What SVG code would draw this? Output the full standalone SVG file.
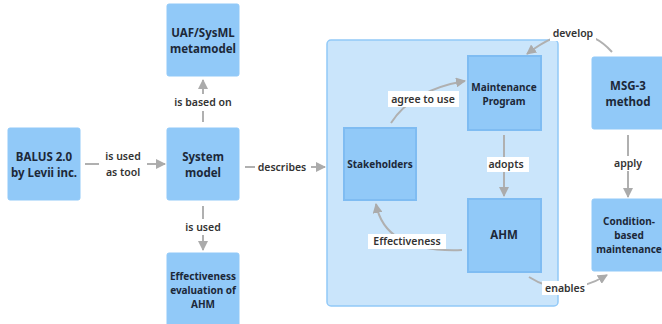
<svg xmlns="http://www.w3.org/2000/svg" width="662" height="324" viewBox="0 0 662 324">
  <defs>
    <marker id="arrow" markerUnits="userSpaceOnUse" markerWidth="10" markerHeight="10" viewBox="0 0 10 10" refX="9" refY="5" orient="auto">
      <path d="M0,0 L10,5 L0,10 z" fill="#ababab"/>
    </marker>
    <style>
      .node { fill: #91c9f8; stroke: #91c9f8; stroke-width: 1; }
      .inner { fill: #91c9f8; stroke: #7fbcf2; stroke-width: 2; }
      .group { fill: #cae5fb; stroke: #91c9f8; stroke-width: 1.5; }
      .ntext { font-family: "Noto Sans", "DejaVu Sans", sans-serif; font-weight: bold; font-size: 11.5px; fill: #1c2838; text-anchor: middle; }
      .ntext.sm { font-size: 10px; }
      .edge { fill: none; stroke: #b0b0b0; stroke-width: 2; marker-end: url(#arrow); }
      .lbox { fill: #ffffff; }
      .ltext { font-family: "Noto Sans", "DejaVu Sans", sans-serif; font-weight: 600; font-size: 10.5px; fill: #333333; text-anchor: middle; }
    </style>
  </defs>

  <!-- container for the maintenance domain -->
  <rect id="domain" class="group" x="327" y="40" width="231" height="266" rx="4"/>

  <!-- connectors -->
  <g id="connectors">
    <path class="edge" d="M85,164 L165,164"/>
    <rect class="lbox" x="99" y="148" width="48" height="32"/>
    <text class="ltext" x="123" y="160">is used</text>
    <text class="ltext" x="123" y="176">as tool</text>

    <path class="edge" d="M203,122 L203,80"/>
    <rect class="lbox" x="174" y="94" width="58" height="17"/>
    <text class="ltext" x="203" y="106">is based on</text>

    <path class="edge" d="M203,206 L203,250"/>
    <rect class="lbox" x="182" y="219" width="42" height="16"/>
    <text class="ltext" x="203" y="231">is used</text>

    <path class="edge" d="M245,167 L325,167"/>
    <rect class="lbox" x="255" y="159" width="56" height="16"/>
    <text class="ltext" x="282" y="171">describes</text>

    <path class="edge" d="M391,123 Q412,90 465,81"/>
    <rect class="lbox" x="388" y="91" width="71" height="16"/>
    <text class="ltext" x="423" y="103">agree to use</text>

    <path class="edge" d="M612,52 Q578,14 527,54"/>
    <rect class="lbox" x="550" y="25" width="46" height="16"/>
    <text class="ltext" x="573" y="37">develop</text>

    <path class="edge" d="M504,135 L504,196"/>
    <rect class="lbox" x="487" y="157" width="42" height="15"/>
    <text class="ltext" x="506" y="168">adopts</text>

    <path class="edge" d="M462,250 Q385,253 376,204"/>
    <rect class="lbox" x="368" y="234" width="78" height="15"/>
    <text class="ltext" x="407" y="245">Effectiveness</text>

    <path class="edge" d="M529,277 Q565,300 607,275"/>
    <rect class="lbox" x="542" y="281" width="45" height="14"/>
    <text class="ltext" x="565" y="292">enables</text>

    <path class="edge" d="M628,135 L628,197"/>
    <rect class="lbox" x="612" y="156" width="32" height="15"/>
    <text class="ltext" x="628" y="167">apply</text>
  </g>

  <!-- nodes -->
  <g id="uaf">
    <rect class="node" x="167" y="4" width="72" height="72" rx="2"/>
    <text class="ntext" x="203" y="37">UAF/SysML</text>
    <text class="ntext" x="203" y="53">metamodel</text>
  </g>
  <g id="balus">
    <rect class="node" x="8" y="128" width="72" height="72" rx="2"/>
    <text class="ntext" x="44" y="161">BALUS 2.0</text>
    <text class="ntext" x="44" y="177">by Levii inc.</text>
  </g>
  <g id="system-model">
    <rect class="node" x="167" y="128" width="72" height="72" rx="2"/>
    <text class="ntext" x="203" y="161">System</text>
    <text class="ntext" x="203" y="177">model</text>
  </g>
  <g id="effectiveness-evaluation">
    <rect class="node" x="167" y="253" width="72" height="74" rx="2"/>
    <text class="ntext sm" x="203" y="280">Effectiveness</text>
    <text class="ntext sm" x="203" y="294">evaluation of</text>
    <text class="ntext sm" x="203" y="308">AHM</text>
  </g>
  <g id="maintenance-program">
    <rect class="inner" x="468" y="56" width="73" height="74"/>
    <text class="ntext sm" x="504" y="91">Maintenance</text>
    <text class="ntext sm" x="504" y="105">Program</text>
  </g>
  <g id="stakeholders">
    <rect class="inner" x="344" y="128" width="72" height="72"/>
    <text class="ntext sm" x="380" y="168">Stakeholders</text>
  </g>
  <g id="ahm">
    <rect class="inner" x="468" y="199" width="73" height="73"/>
    <text class="ntext" x="504" y="239">AHM</text>
  </g>
  <g id="msg3">
    <rect class="node" x="592" y="57" width="72" height="72" rx="2"/>
    <text class="ntext" x="628" y="90">MSG-3</text>
    <text class="ntext" x="628" y="106">method</text>
  </g>
  <g id="condition-based">
    <rect class="node" x="592" y="199" width="72" height="72" rx="2"/>
    <text class="ntext sm" x="629" y="225">Condition-</text>
    <text class="ntext sm" x="629" y="239">based</text>
    <text class="ntext sm" x="629" y="253">maintenance</text>
  </g>
</svg>
